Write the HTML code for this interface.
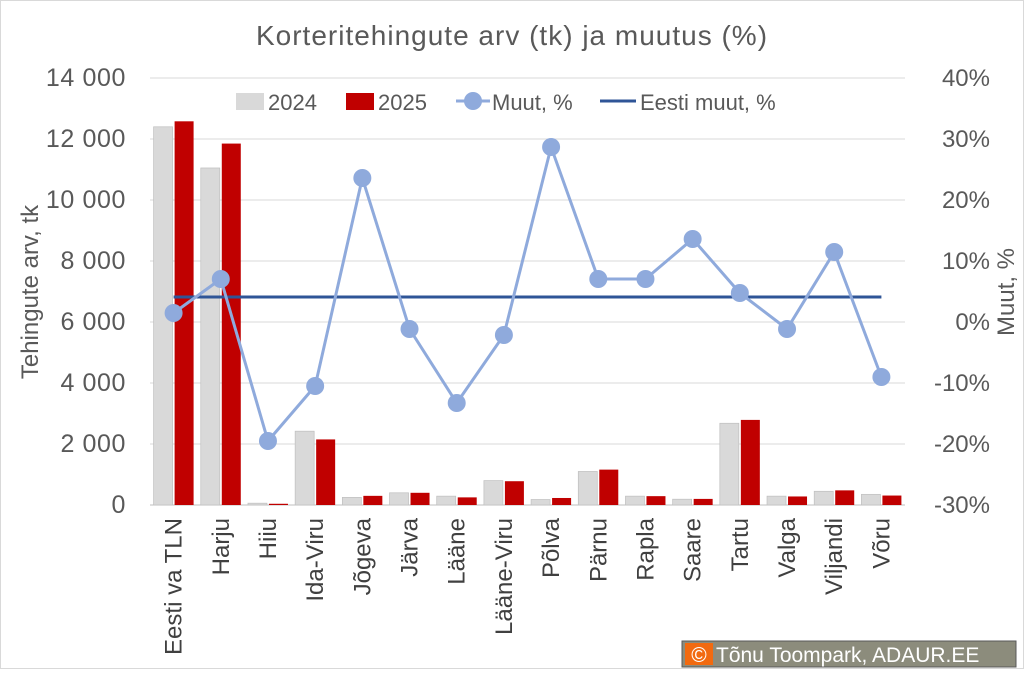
<!DOCTYPE html>
<html><head><meta charset="utf-8"><style>
body{margin:0;background:#fff;width:1024px;height:669px;overflow:hidden;font-family:"Liberation Sans",sans-serif}
</style></head><body>
<svg id="s" width="1024" height="669" xmlns="http://www.w3.org/2000/svg" font-family="Liberation Sans, sans-serif"></svg>
<script>
const s=document.getElementById('s');let h='';
h+='<rect x="0.5" y="0.5" width="1023" height="668" fill="#fff" stroke="#d9d9d9"/>';
h+='<text x="512" y="45" text-anchor="middle" font-size="28" letter-spacing="1" fill="#595959">Korteritehingute arv (tk) ja muutus (%)</text>';
const x0=150,x1=905,y0=505,pp=427/14000;
for(let i=0;i<=7;i++){const y=y0-i*2000*pp;
h+=`<line x1="${x0}" x2="${x1}" y1="${y}" y2="${y}" stroke="#d9d9d9"/>`;
h+=`<text x="126" y="${y+8}" text-anchor="end" font-size="25" letter-spacing="0.6" fill="#595959">${i==0?'0':(i*2)+' 000'}</text>`;
h+=`<text x="990" y="${y+8}" text-anchor="end" font-size="24" fill="#595959">${(i-3)*10}%</text>`;}
h+=`<line x1="${x0}" x2="${x1}" y1="${y0}" y2="${y0}" stroke="#bfbfbf"/>`;
const cats=['Eesti va TLN','Harju','Hiiu','Ida-Viru','Jõgeva','Järva','Lääne','Lääne-Viru','Põlva','Pärnu','Rapla','Saare','Tartu','Valga','Viljandi','Võru'];
const a=[12400,11050,60,2420,250,400,290,800,180,1100,290,190,2680,290,450,350];
const b=[12580,11850,40,2150,300,400,250,780,230,1160,290,200,2790,280,480,310];
const py=[313,279,441,386,178,329,403,335,147,279,279,239,293,329,252,377];
const w=(x1-x0)/16;let pts=[];
cats.forEach((c,i)=>{const cx=x0+w/2+i*w;
h+=`<rect x="${cx-20}" y="${y0-a[i]*pp}" width="19" height="${a[i]*pp}" fill="#d9d9d9" stroke="#bfbfbf" stroke-width="0.7"/>`;
h+=`<rect x="${cx+1}" y="${y0-b[i]*pp}" width="19" height="${b[i]*pp}" fill="#c00000"/>`;
h+=`<text transform="translate(${cx+8},518) rotate(-90)" text-anchor="end" font-size="24" fill="#404040">${c}</text>`;
pts.push([cx,py[i]]);});
h+=`<line x1="${x0+w/2}" x2="${x1-w/2}" y1="297" y2="297" stroke="#2f5597" stroke-width="3"/>`;
h+=`<polyline points="${pts.map(p=>p.join(',')).join(' ')}" fill="none" stroke="#8faadc" stroke-width="3"/>`;
pts.forEach(p=>h+=`<circle cx="${p[0]}" cy="${p[1]}" r="9" fill="#8faadc"/>`);
h+=`<text transform="translate(38,292) rotate(-90)" text-anchor="middle" font-size="24" fill="#595959">Tehingute arv, tk</text>`;
h+=`<text transform="translate(1014,292) rotate(-90)" text-anchor="middle" font-size="24" fill="#595959">Muut, %</text>`;
h+='<rect x="236" y="93" width="28" height="17" fill="#d9d9d9"/><text x="268" y="110" font-size="22" fill="#595959">2024</text>';
h+='<rect x="346" y="93" width="28" height="17" fill="#c00000"/><text x="378" y="110" font-size="22" fill="#595959">2025</text>';
h+='<line x1="456" x2="490" y1="101" y2="101" stroke="#8faadc" stroke-width="3"/><circle cx="473" cy="101" r="9" fill="#8faadc"/><text x="492" y="110" font-size="22" fill="#595959">Muut, %</text>';
h+='<line x1="600" x2="636" y1="101" y2="101" stroke="#2f5597" stroke-width="3"/><text x="640" y="110" font-size="22" fill="#595959">Eesti muut, %</text>';
h+='<rect x="682" y="641" width="334" height="26" fill="#8c8c7c" stroke="#595959"/><rect x="685" y="643" width="28" height="22" fill="#f26a10"/>';
h+='<text x="699" y="662" text-anchor="middle" font-size="21" fill="#fff">©</text><text x="716" y="662" font-size="21" fill="#fff">Tõnu Toompark, ADAUR.EE</text>';
s.innerHTML=h;
</script>
</body></html>
